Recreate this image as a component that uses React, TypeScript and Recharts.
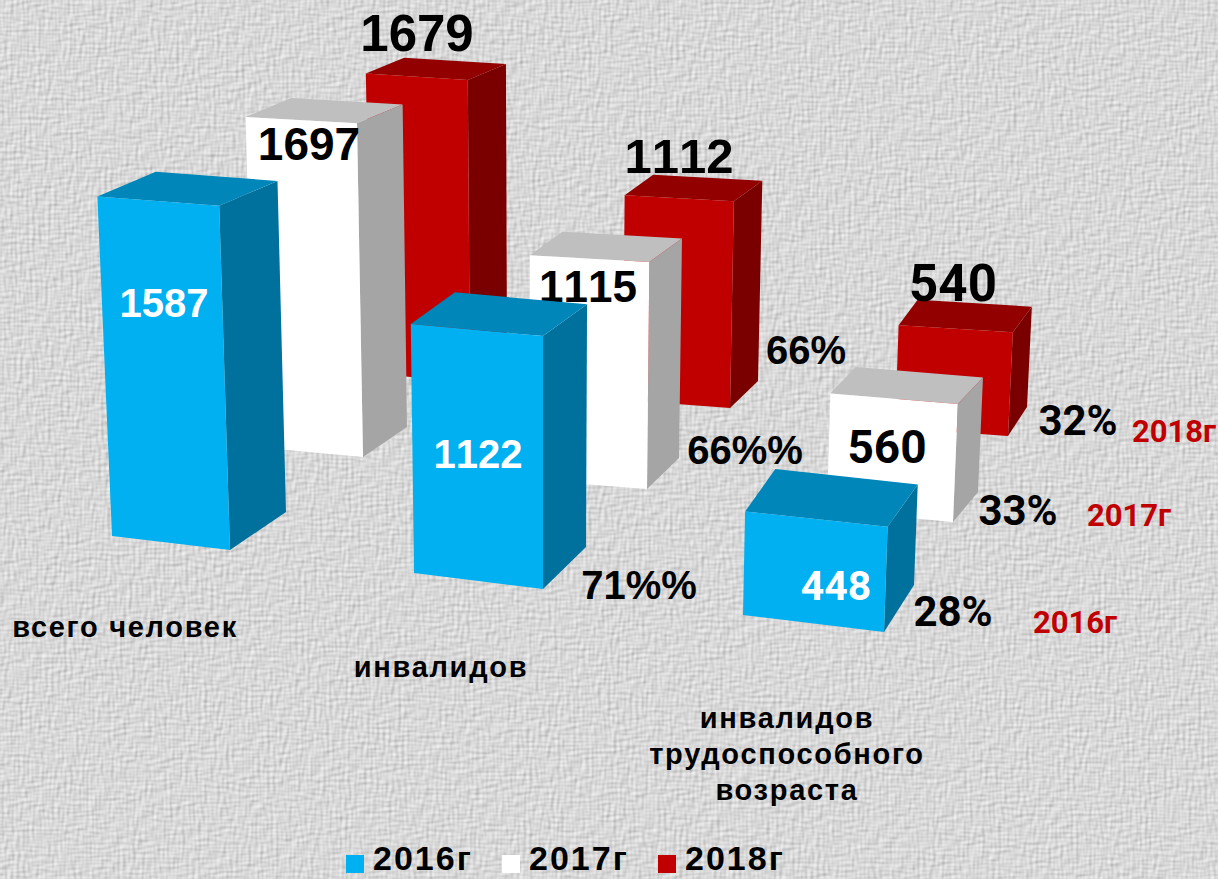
import { BarChart, Bar, XAxis, YAxis, Legend } from "recharts";

const WIDTH = 1218;
const HEIGHT = 879;
const PLOT_TOP = 120;
const PLOT_BOTTOM = 620;
const BAR_SIZE = 120;
const MAX_VALUE = 2000;
const PX_PER_UNIT = (PLOT_BOTTOM - PLOT_TOP) / MAX_VALUE;
const SANS = "'Liberation Sans', Arial, sans-serif";
const ROBOTO = "Roboto, 'Liberation Sans', sans-serif";

const categories = ["всего человек", "инвалидов", "инвалидов трудоспособного возраста"];
const values2016 = [1587, 1122, 448];
const values2017 = [1697, 1115, 560];
const values2018 = [1679, 1112, 540];
const percents2016 = ["", "71%%", "28%"];
const percents2017 = ["", "66%%", "33%"];
const percents2018 = ["", "66%", "32%"];

const data = categories.map((category, i) => ({
  category,
  y2016: values2016[i],
  y2017: values2017[i],
  y2018: values2018[i],
}));

// where each prism stands on the floor: front-left, front-right, back-right,
// as offsets from the bar's own x and baseline
const footprint2016 = [
  [[-108, -84], [10, -70], [66, -108]],
  [[-106, -47], [23, -31], [66, -73]],
  [[-77, -5], [64, 12], [94, -35]],
];
const footprint2017 = [
  [[35, -173], [143, -163], [187, -193]],
  [[10, -140], [127, -131], [159, -162]],
  [[7, -110], [133, -98], [158, -128]],
];
const footprint2018 = [
  [[151, -247], [250, -237], [287, -262]],
  [[103, -220], [210, -212], [238, -239]],
  [[75, -192], [188, -184], [207, -213]],
];

// label centres, same offsets: [dx, dy, fontSize]
const valueLabels2016 = [[-56, -317, 40], [-42, -166, 40], [16, -34, 41]];
const valueLabels2017 = [[89, -476, 46], [68, -334, 44], [67, -173, 46]];
const valueLabels2018 = [[197, -587, 51], [159, -464, 49], [133, -337, 51]];
const percentLabels2016 = [null, [119, -35], [133, -9]];
const percentLabels2017 = [null, [225, -170], [198, -110]];
const percentLabels2018 = [null, [286, -270], [258, -200]];

const categoryLabels = [
  { dx: -155, dy: 7, lines: ["всего человек"] },
  { dx: -139, dy: 47, lines: ["инвалидов"] },
  { dx: -93, dy: 98, lines: ["инвалидов", "трудоспособного", "возраста"] },
];

// perspective of the original 3D chart: uprights lean away from x = 543,
// and things lower on the page are closer, so they get taller
const leanAt = (x: number) => (x - 543) * 0.0001;
const unitHeightAt = (y: number) => 0.097 + 0.000218 * y;

function raise(px: number, py: number, barHeight: number) {
  const h = (barHeight / PX_PER_UNIT) * unitHeightAt(py);
  return [px + h * leanAt(px), py - h];
}

const pts = (list: number[][]) => list.map((p) => p.join(",")).join(" ");

function makeShape(cfg: any) {
  return function PrismShape(props: any) {
    const { x, y, height, index } = props;
    const base = y + height;
    const [fl, fr, br] = cfg.footprint[index].map((o: number[]) => [x + o[0], base + o[1]]);
    const bl = [fl[0] + br[0] - fr[0], fl[1] + br[1] - fr[1]];
    const tfl = raise(fl[0], fl[1], height);
    const tfr = raise(fr[0], fr[1], height);
    const tbr = raise(br[0], br[1], height);
    const tbl = raise(bl[0], bl[1], height);
    const [vx, vy, vs] = cfg.valueLabels[index];
    const pct = cfg.percentLabels[index];
    const font = index === 2 ? ROBOTO : SANS;
    return (
      <g>
        <polygon points={pts([fr, br, tbr, tfr])} fill={cfg.side} />
        <polygon points={pts([tfl, tfr, tbr, tbl])} fill={cfg.top} />
        <polygon points={pts([fl, fr, tfr, tfl])} fill={cfg.front} />
        <text
          x={x + vx}
          y={base + vy}
          fontFamily={font}
          fontWeight={700}
          fontSize={vs}
          fill={cfg.valueColor}
          textAnchor="middle"
          dominantBaseline="central"
          style={{ fontKerning: "none" }}
        >
          {values[cfg.key][index]}
        </text>
        {pct && (
          <text
            x={x + pct[0]}
            y={base + pct[1]}
            fontFamily={font}
            fontWeight={700}
            fontSize={index === 2 ? 42 : 40}
            fill="#000"
            textAnchor="middle"
            dominantBaseline="central"
          >
            {cfg.percents[index]}
          </text>
        )}
        {index === 2 && (
          <text
            x={x + cfg.yearTag[0]}
            y={base + cfg.yearTag[1]}
            fontFamily={ROBOTO}
            fontWeight={700}
            fontSize={31}
            fill="#C00000"
            textAnchor="middle"
            dominantBaseline="central"
          >
            {cfg.name}
          </text>
        )}
      </g>
    );
  };
}

const values: Record<string, number[]> = { y2016: values2016, y2017: values2017, y2018: values2018 };

// back row first so the front row paints over it
const series = [
  {
    key: "y2018",
    name: "2018г",
    front: "#C00000",
    top: "#920000",
    side: "#7A0000",
    valueColor: "#000",
    footprint: footprint2018,
    valueLabels: valueLabels2018,
    percentLabels: percentLabels2018,
    percents: percents2018,
    yearTag: [354, -189],
  },
  {
    key: "y2017",
    name: "2017г",
    front: "#FFFFFF",
    top: "#BFBFBF",
    side: "#A5A5A5",
    valueColor: "#000",
    footprint: footprint2017,
    valueLabels: valueLabels2017,
    percentLabels: percentLabels2017,
    percents: percents2017,
    yearTag: [309, -105],
  },
  {
    key: "y2016",
    name: "2016г",
    front: "#00B0F0",
    top: "#0086B8",
    side: "#00709C",
    valueColor: "#fff",
    footprint: footprint2016,
    valueLabels: valueLabels2016,
    percentLabels: percentLabels2016,
    percents: percents2016,
    yearTag: [255, 2],
  },
];

function CategoryTick(props: any) {
  const { x, y, index } = props;
  const label = categoryLabels[index];
  return (
    <text
      fontFamily={SANS}
      fontWeight={700}
      fontSize={29}
      letterSpacing={1.7}
      fill="#000"
      textAnchor="middle"
    >
      {label.lines.map((line, i) => (
        <tspan key={line} x={x + label.dx} y={y + label.dy + i * 36} dominantBaseline="central">
          {line}
        </tspan>
      ))}
    </text>
  );
}

function LegendContent(props: any) {
  const items = props.payload ?? [];
  return (
    <div style={{ display: "flex", paddingLeft: 216, height: 40 }}>
      {items.map((item: any) => (
        <div key={item.value} style={{ display: "flex", width: 156, height: 40 }}>
          <span style={{ width: 18, height: 18, background: item.color, marginRight: 9, marginTop: 16 }} />
          <span
            style={{
              fontFamily: SANS,
              fontWeight: 700,
              fontSize: 34,
              letterSpacing: 2,
              lineHeight: "38px",
              color: "#000",
            }}
          >
            {item.value}
          </span>
        </div>
      ))}
    </div>
  );
}

export default function App() {
  return (
    <div style={{ position: "absolute", left: 0, top: 0, width: WIDTH, height: HEIGHT, overflow: "hidden" }}>
      <svg width={WIDTH} height={HEIGHT} style={{ position: "absolute", left: 0, top: 0 }}>
        <defs>
          <filter id="canvas" x="0" y="0" width="100%" height="100%" colorInterpolationFilters="sRGB">
            <feTurbulence type="fractalNoise" baseFrequency="0.08 0.32" numOctaves={1} seed={4} result="h" />
            <feTurbulence type="fractalNoise" baseFrequency="0.32 0.08" numOctaves={1} seed={9} result="v" />
            <feComposite in="h" in2="v" operator="arithmetic" k1={0} k2={0.5} k3={0.5} k4={0} result="weave" />
            <feDiffuseLighting in="weave" surfaceScale={0.9} diffuseConstant={1} lightingColor="#ffffff">
              <feDistantLight azimuth={225} elevation={58} />
            </feDiffuseLighting>
          </filter>
        </defs>
        <rect width={WIDTH} height={HEIGHT} fill="#d9d9d9" filter="url(#canvas)" />
      </svg>
      <BarChart
        width={WIDTH}
        height={HEIGHT}
        data={data}
        barSize={BAR_SIZE}
        barGap={-BAR_SIZE}
        margin={{ top: PLOT_TOP, right: 188, bottom: 0, left: 130 }}
        style={{ position: "absolute", left: 0, top: 0 }}
      >
        <XAxis
          dataKey="category"
          height={219}
          axisLine={false}
          tickLine={false}
          tickSize={0}
          tickMargin={0}
          interval={0}
          tick={<CategoryTick />}
        />
        <YAxis hide domain={[0, MAX_VALUE]} />
        <Legend verticalAlign="bottom" height={40} content={<LegendContent />} />
        {series.map((s) => (
          <Bar
            key={s.key}
            dataKey={s.key}
            name={s.name}
            fill={s.front}
            isAnimationActive={false}
            shape={makeShape(s)}
          />
        ))}
      </BarChart>
    </div>
  );
}
